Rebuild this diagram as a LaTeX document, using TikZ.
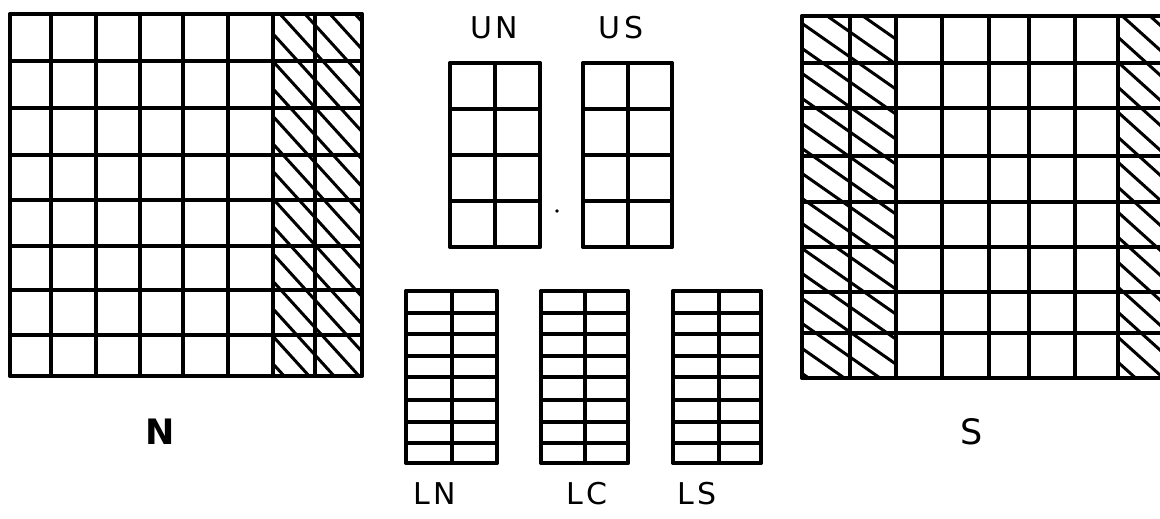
\documentclass[tikz,border=0pt]{standalone}
\usepackage{fontspec}
\setmainfont{DejaVu Sans}
\begin{document}
\begin{tikzpicture}[x=1pt,y=-1pt,
  gridline/.style={line width=3.6pt,line cap=round,line join=round},
  hatchline/.style={line width=3pt,line cap=round},
  lbl/.style={font=\fontsize{30}{30}\selectfont\addfontfeature{LetterSpace=12},inner sep=0pt,anchor=center},
  biglbl/.style={font=\fontsize{35}{35}\selectfont,inner sep=0pt,anchor=center}]
\useasboundingbox (0,0) rectangle (1160,519);
\clip (0,0) rectangle (1160,519);
% ---------- N block ----------
\begin{scope}
  \clip (273,14) rectangle (362,376);
  \foreach \m in {-4,...,15}
    \draw[hatchline] ({280-25*\m},14) -- ++(400,440);
\end{scope}
\foreach \x in {10,51,96,140,183,228,273,315,362}
  \draw[gridline] (\x,14) -- (\x,376);
\foreach \y in {14,61,108,155,200,246,290,335,376}
  \draw[gridline] (10,\y) -- (362,\y);
% ---------- S block ----------
\begin{scope}
  \clip (802,16) rectangle (896,378);
  \foreach \m in {-4,...,16}
    \draw[hatchline] (790,{40+25*\m}) -- ++(120,84);
\end{scope}
\begin{scope}
  \clip (1118,16) rectangle (1165,378);
  \foreach \m in {-4,...,16}
    \draw[hatchline] (1110,{30+25*\m}) -- ++(60,54);
\end{scope}
\foreach \x in {802,850,896,942,989,1029,1075,1118,1163}
  \draw[gridline] (\x,16) -- (\x,378);
\foreach \y in {16,63,108,156,202,247,292,333,378}
  \draw[gridline] (802,\y) -- (1163,\y);
% ---------- UN / US ----------
\foreach \xa/\xm/\xb in {450/495/540, 583/628/672}{
  \draw[gridline] (\xm,63) -- (\xm,247);
  \foreach \y in {63,109,155,201,247}
    \draw[gridline] (\xa,\y) -- (\xb,\y);
  \draw[gridline] (\xa,63) -- (\xa,247);
  \draw[gridline] (\xb,63) -- (\xb,247);
}
\fill (557,211) circle (1.8);
% ---------- LN / LC / LS ----------
\foreach \xa/\xm/\xb in {406/452/497, 541/585/628, 673/719/761}{
  \draw[gridline] (\xm,291) -- (\xm,463);
  \foreach \y in {291,313,334,356,377,400,422,443,463}
    \draw[gridline] (\xa,\y) -- (\xb,\y);
  \draw[gridline] (\xa,291) -- (\xa,463);
  \draw[gridline] (\xb,291) -- (\xb,463);
}
% ---------- labels ----------
\node[lbl] (un) at (494,28) {UN};
\node[lbl] (us) at (621,28) {US};
\node[lbl] (ln) at (435,494) {LN};
\node[lbl] (lc) at (587,494) {LC};
\node[lbl] (ls) at (697,494) {LS};
\node[biglbl] (n) at (160,432) {\bfseries N};
\node[biglbl] (s) at (972,432) {S};
\end{tikzpicture}
\end{document}
